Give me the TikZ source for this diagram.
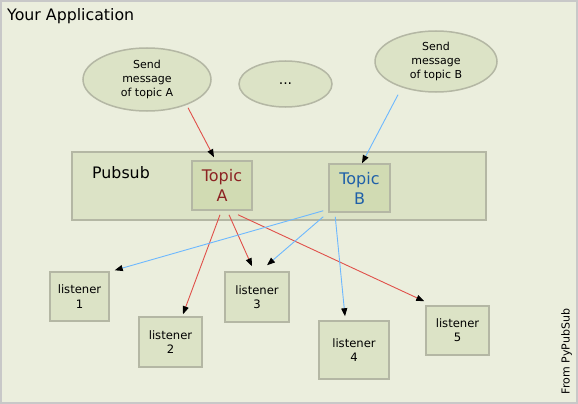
\documentclass[tikz,border=0pt]{standalone}
\usepackage{fontspec}
\setmainfont{DejaVu Sans}
\usetikzlibrary{shapes.geometric,arrows.meta}

\definecolor{appbg}{HTML}{EBEEDD}
\definecolor{boxfill}{HTML}{DCE3C6}
\definecolor{topicfill}{HTML}{D1DBB3}
\definecolor{boxline}{HTML}{B4B7A4}
\definecolor{framegray}{HTML}{C8C8C8}
\definecolor{msgred}{HTML}{E0504A}
\definecolor{msgblue}{HTML}{6DB8FF}
\definecolor{topicred}{HTML}{8C2323}
\definecolor{topicblue}{HTML}{1F60A8}

\begin{document}
\begin{tikzpicture}[x=1pt, y=-1pt,
    sender/.style={ellipse, draw=boxline, line width=1.5pt, fill=boxfill, inner sep=0pt,
      align=center, font=\fontsize{11}{14.3}\selectfont},
    topic/.style={rectangle, draw=boxline, line width=1.5pt, fill=topicfill, inner sep=0pt,
      align=center, font=\fontsize{16}{20}\selectfont},
    listener/.style={rectangle, draw=boxline, line width=1.5pt, fill=boxfill, inner sep=0pt,
      align=center, font=\fontsize{11.6}{14.3}\selectfont},
    redmsg/.style={draw=msgred, line width=0.9pt, -{Triangle[length=8pt,width=6pt,color=black]}},
    bluemsg/.style={draw=msgblue, line width=0.9pt, -{Triangle[length=8pt,width=6pt,color=black]}}]
      \useasboundingbox (0, 0) rectangle (578, 404);
      \draw [framegray, fill=appbg, line width=2pt] (1, 1) rectangle (577, 403);
      \node [anchor=base west, inner sep=0pt, font=\fontsize{15.8}{19}\selectfont] (title) at (7, 20.5)
        {Your Application};

      \node [sender, minimum width=128pt, minimum height=63pt] (sendA) at (147, 79.5)
        {Send\\message\\of topic A};
      \node [sender, minimum width=93pt, minimum height=46pt, font=\fontsize{14}{16}\selectfont]
        (others) at (285.5, 84) {...};
      \node [sender, minimum width=122pt, minimum height=61pt] (sendB) at (436, 61.5)
        {Send\\message\\of topic B};

      \node [rectangle, draw=boxline, line width=1.5pt, fill=boxfill,
        minimum width=414pt, minimum height=68pt] (pubsub) at (279, 186) {};
      \node [anchor=base west, inner sep=0pt, font=\fontsize{15.8}{19}\selectfont] (pubsublabel)
        at (92, 178) {Pubsub};
      \node [topic, minimum width=60pt, minimum height=49pt, text=topicred] (tA) at (222, 185.5)
        {Topic\\A};
      \node [topic, minimum width=61pt, minimum height=48pt, text=topicblue] (tB) at (359.5, 188)
        {Topic\\B};

      \foreach \name/\x/\y/\w/\h in {1/79.5/296.5/59/49, 2/170.5/342/63/50,
          3/257/297/64/50, 4/354/350/70/58, 5/457.5/330.5/63/49} {
        \node [listener, minimum width=\w pt, minimum height=\h pt] (l\name) at (\x, \y)
          {listener\\\name};
      }

      \node [rotate=90, font=\fontsize{11}{13}\selectfont] (credit) at (566.5, 351.5) {From PyPubSub};

      \draw [redmsg] ([xshift=41pt, yshift=4pt]sendA.south) -- ([xshift=-8pt, yshift=3pt]tA.north);
      \draw [bluemsg] ([xshift=-38pt, yshift=-2pt]sendB.south) -- ([xshift=2.5pt]tB.north);

      \draw [redmsg] ([xshift=-2pt, yshift=-4pt]tA.south) -- ([xshift=12.5pt, yshift=2pt]l2.north);
      \draw [redmsg] ([xshift=7pt, yshift=-4pt]tA.south) -- ([xshift=-5pt, yshift=5pt]l3.north);
      \draw [redmsg] ([xshift=16pt, yshift=-4pt]tA.south) -- ([xshift=-1pt, yshift=4pt]l5.north west);

      \draw [bluemsg] ([xshift=-5pt, yshift=2pt]tB.south west) -- ([xshift=5pt, yshift=1pt]l1.north east);
      \draw [bluemsg] ([xshift=-5pt, yshift=-4pt]tB.south west) -- ([xshift=10pt, yshift=6pt]l3.north);
      \draw [bluemsg] ([xshift=7pt, yshift=-4pt]tB.south west) -- ([xshift=-9pt, yshift=4pt]l4.north);
\end{tikzpicture}
\end{document}
